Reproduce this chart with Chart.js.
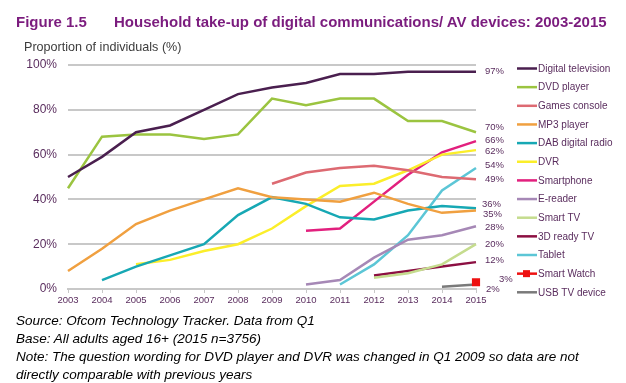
<!DOCTYPE html>
<html>
<head>
<meta charset="utf-8">
<script src="https://cdn.jsdelivr.net/npm/chart.js@4.4.1/dist/chart.umd.min.js"></script>
<style>
  body { margin: 0; background: #fff; font-family: "Liberation Sans", Arial, sans-serif; }
  #wrap { position: relative; width: 626px; height: 383px; overflow: hidden; }
  #chart { position: absolute; left: 0; top: 0; }
  .title { position: absolute; top: 13px; font-size: 15px; font-weight: bold; color: #7b1c7e; white-space: nowrap; }
  .ylab { position: absolute; left: 24px; top: 40px; font-size: 12.6px; color: #3c3c3c; }
  .notes { position: absolute; left: 16px; top: 312px; font-size: 13.5px; font-style: italic; color: #000; line-height: 18px; }
</style>
</head>
<body>
<div id="wrap">
  <canvas id="chart" width="626" height="383"></canvas>
  <div class="title" style="left:16px">Figure 1.5</div>
  <div class="title" style="left:114px">Household take-up of digital communications/ AV devices: 2003-2015</div>
  <div class="ylab">Proportion of individuals (%)</div>
  <div class="notes">
    Source: Ofcom Technology Tracker. Data from Q1<br>
    Base: All adults aged 16+ (2015 n=3756)<br>
    Note: The question wording for DVD player and DVR was changed in Q1 2009 so data are not<br>
    directly comparable with previous years
  </div>
</div>
<script>
// years on the x axis
const years = ['2003', '2004', '2005', '2006', '2007', '2008', '2009', '2010', '2011', '2012', '2013', '2014', '2015'];

// series values (%), null = not measured that year
const digitalTv    = [50, 59, 70, 73, 80, 87, 90, 92, 96, 96, 97, 97, 97];
const dvdPlayer    = [45, 68, 69, 69, 67, 69, 85, 82, 85, 85, 75, 75, 70];
const gamesConsole = [null, null, null, null, null, null, 47, 52, 54, 55, 53, 50, 49];
const mp3Player    = [8, 18, 29, 35, 40, 45, 41, 40, 39, 43, 38, 34, 35];
const dabRadio     = [null, 4, 10, 15, 20, 33, 41, 38, 32, 31, 35, 37, 36];
const dvr          = [null, null, 11, 13, 17, 20, 27, 37, 46, 47, 53, 60, 62];
const smartphone   = [null, null, null, null, null, null, null, 26, 27, 39, 51, 61, 66];
const eReader      = [null, null, null, null, null, null, null, 2, 4, 14, 22, 24, 28];
const smartTv      = [null, null, null, null, null, null, null, null, null, 5, 7, 11, 20];
const ready3dTv    = [null, null, null, null, null, null, null, null, null, 6, 8, 10, 12];
const tablet       = [null, null, null, null, null, null, null, null, 2, 11, 24, 44, 54];
const smartWatch   = [null, null, null, null, null, null, null, null, null, null, null, null, 3];
const usbTv        = [null, null, null, null, null, null, null, null, null, null, null, 1, 2];

// y ticks
const yTicks = [0, 20, 40, 60, 80, 100];

// 2015 values printed at the end of the lines
const endLabels = [97, 70, 66, 62, 54, 49, 36, 35, 28, 20, 12, 3, 2];
// small nudges so the labels do not collide (dx, dy in px)
const endNudge = [[0, 0], [0, -5], [0, -1], [0, 1], [0, -3], [0, 0], [-3, -4], [-2, 4], [0, 1], [0, 0], [0, -2], [14, -3], [1, 5]];

const purple = '#5a2d5e';
const font = '"Liberation Sans", Arial, sans-serif';

const series = [
  { label: 'Digital television', data: digitalTv, color: '#4a1f4f' },
  { label: 'DVD player', data: dvdPlayer, color: '#9bc440' },
  { label: 'Games console', data: gamesConsole, color: '#dd6a72' },
  { label: 'MP3 player', data: mp3Player, color: '#f0a040' },
  { label: 'DAB digital radio', data: dabRadio, color: '#17a8b4' },
  { label: 'DVR', data: dvr, color: '#fbee2a' },
  { label: 'Smartphone', data: smartphone, color: '#e2207e' },
  { label: 'E-reader', data: eReader, color: '#a688b6' },
  { label: 'Smart TV', data: smartTv, color: '#c5dc8e' },
  { label: '3D ready TV', data: ready3dTv, color: '#8c0f42' },
  { label: 'Tablet', data: tablet, color: '#5cc6d6' },
  { label: 'Smart Watch', data: smartWatch, color: '#ee1111', marker: true },
  { label: 'USB TV device', data: usbTv, color: '#7a7a7a' }
];

// legend drawn at the right of the plot
const sideLegend = {
  id: 'sideLegend',
  afterDraw(chart) {
    const c = chart.ctx;
    c.save();
    c.font = '10px ' + font;
    c.textBaseline = 'middle';
    series.forEach((s, i) => {
      const y = 68.5 + i * 18.65;
      c.strokeStyle = s.color;
      c.lineWidth = 2.5;
      c.beginPath();
      c.moveTo(517, y);
      c.lineTo(537, y);
      c.stroke();
      if (s.marker) {
        c.fillStyle = s.color;
        c.fillRect(523, y - 3.5, 7, 7);
      }
      c.fillStyle = purple;
      c.fillText(s.label, 538, y + 0.5);
    });
    c.restore();
  }
};

// value labels at the end of the lines
const endValues = {
  id: 'endValues',
  afterDraw(chart) {
    const c = chart.ctx;
    const ys = chart.scales.y;
    c.save();
    c.font = '9.5px ' + font;
    c.fillStyle = purple;
    c.textBaseline = 'middle';
    endLabels.forEach((v, i) => {
      const y = ys.getPixelForValue(v) + endNudge[i][1];
      c.fillText(v + '%', 485 + endNudge[i][0], y);
    });
    c.restore();
  }
};

new Chart(document.getElementById('chart'), {
  type: 'line',
  data: {
    labels: years,
    datasets: series.map(s => ({
      label: s.label,
      data: s.data,
      borderColor: s.color,
      backgroundColor: s.color,
      borderWidth: 2.5,
      tension: 0,
      pointRadius: s.marker ? 4 : 0,
      pointStyle: 'rect',
      pointHoverRadius: 0,
      spanGaps: false
    }))
  },
  options: {
    responsive: false,
    animation: false,
    layout: { padding: { left: 0, right: 150, top: 65, bottom: 74 } },
    plugins: {
      legend: { display: false },
      tooltip: { enabled: false }
    },
    scales: {
      x: {
        offset: false,
        grid: { display: true, drawOnChartArea: false, color: '#c8c8c8', tickLength: 4, lineWidth: 1 },
        border: { color: '#c8c8c8', width: 2 },
        ticks: { color: purple, font: { size: 9.5, family: font }, maxRotation: 0, autoSkip: false, padding: 2 },
        afterFit(scale) { scale.height = 20; }
      },
      y: {
        min: 0,
        max: 100,
        afterBuildTicks(scale) { scale.ticks = yTicks.map(v => ({ value: v })); },
        grid: { color: '#c8c8c8', lineWidth: 2, drawTicks: false },
        border: { display: false },
        ticks: {
          color: purple,
          padding: 11,
          font: { size: 12, family: font },
          callback: v => v + '%'
        },
        afterFit(scale) { scale.width = 68; }
      }
    }
  },
  plugins: [sideLegend, endValues]
});
</script>
</body>
</html>
